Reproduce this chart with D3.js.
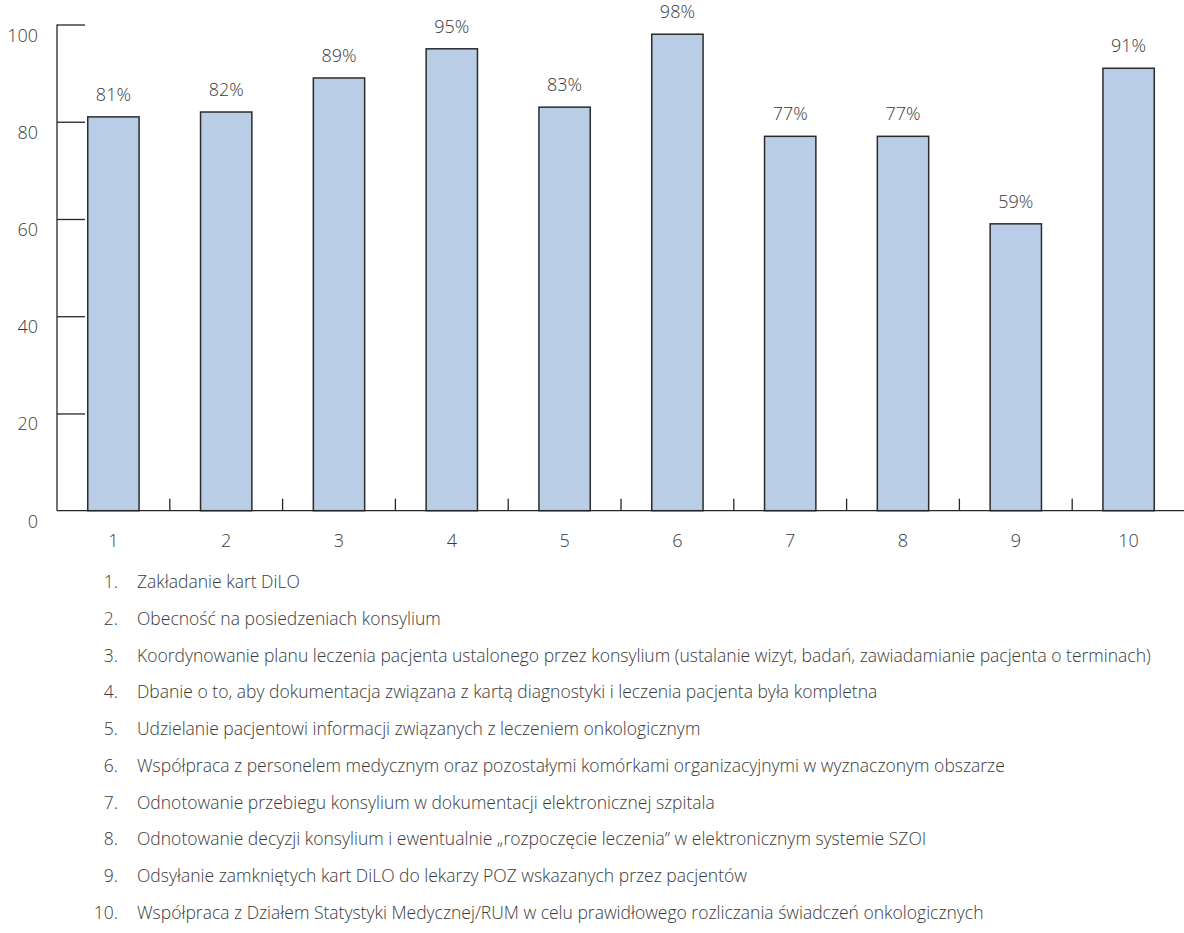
<!DOCTYPE html>
<html><head><meta charset="utf-8">
<script src="https://cdn.jsdelivr.net/npm/d3@7/dist/d3.min.js"></script>
<style>
html,body{margin:0;padding:0;background:#fff;}
svg{display:block;}
text{font-family:"Open Sans","Noto Sans",sans-serif;font-weight:300;}
</style></head>
<body>
<svg id="chart" width="1184" height="933"></svg>
<script>
const categories = ["1","2","3","4","5","6","7","8","9","10"];
const values = [81,82,89,95,83,98,77,77,59,91];
const yTicks = [0,20,40,60,80,100];
const legendItems = [
  "Zakładanie kart DiLO",
  "Obecność na posiedzeniach konsylium",
  "Koordynowanie planu leczenia pacjenta ustalonego przez konsylium (ustalanie wizyt, badań, zawiadamianie pacjenta o terminach)",
  "Dbanie o to, aby dokumentacja związana z kartą diagnostyki i leczenia pacjenta była kompletna",
  "Udzielanie pacjentowi informacji związanych z leczeniem onkologicznym",
  "Współpraca z personelem medycznym oraz pozostałymi komórkami organizacyjnymi w wyznaczonym obszarze",
  "Odnotowanie przebiegu konsylium w dokumentacji elektronicznej szpitala",
  "Odnotowanie decyzji konsylium i ewentualnie „rozpoczęcie leczenia” w elektronicznym systemie SZOI",
  "Odsyłanie zamkniętych kart DiLO do lekarzy POZ wskazanych przez pacjentów",
  "Współpraca z Działem Statystyki Medycznej/RUM w celu prawidłowego rozliczania świadczeń onkologicznych"
];

const svg = d3.select("#chart");
const x0 = 57, x1 = 1185, yTop = 24.5, yBot = 510.7;
const x = d3.scaleBand().domain(categories).range([x0, x1]).padding(0);
const y = d3.scaleLinear().domain([0,100]).range([yBot, yTop]);
const barW = x.bandwidth() * 0.455;
const axisColor = "#262626";
const textColor = "#3a3a3a";
const fam = '"Open Sans","Noto Sans",sans-serif';

// bars
svg.append("g").selectAll("rect").data(values).join("rect")
  .attr("x", (d,i) => x(categories[i]) + x.bandwidth()/2 - barW/2)
  .attr("y", d => y(d))
  .attr("width", barW)
  .attr("height", d => yBot - y(d))
  .attr("fill", "#b9cde6")
  .attr("stroke", "#2b2b2b")
  .attr("stroke-width", 1.5);

// value labels
svg.append("g").selectAll("text").data(values).join("text")
  .attr("x", (d,i) => x(categories[i]) + x.bandwidth()/2)
  .attr("y", d => y(d) - 16)
  .attr("text-anchor", "middle")
  .attr("font-size", 18)
  .attr("fill", textColor)
  .text(d => d + "%");

// y axis
const yAxis = d3.axisRight(y).tickValues(yTicks).tickSize(28).tickFormat("");
const gy = svg.append("g").attr("transform", `translate(${x0},0)`).call(yAxis);
gy.select(".domain").remove();
gy.selectAll(".tick line").attr("stroke", axisColor).attr("stroke-width", 1.3);
gy.selectAll(".tick").filter(d => d === 0).remove();
svg.append("line").attr("x1", x0).attr("x2", x0).attr("y1", yTop).attr("y2", yBot)
  .attr("stroke", axisColor).attr("stroke-width", 1.3);
svg.append("g").selectAll("text").data(yTicks).join("text")
  .attr("x", 38).attr("y", d => y(d) + 17)
  .attr("text-anchor", "end")
  .attr("font-size", 18)
  .attr("fill", textColor)
  .text(d => d);

// x axis
svg.append("line").attr("x1", x0).attr("x2", x1).attr("y1", yBot).attr("y2", yBot)
  .attr("stroke", axisColor).attr("stroke-width", 1.3);
svg.append("g").selectAll("line").data(categories.slice(1)).join("line")
  .attr("x1", d => x(d)).attr("x2", d => x(d))
  .attr("y1", yBot).attr("y2", yBot - 12)
  .attr("stroke", axisColor).attr("stroke-width", 1.3);
const xAxis = d3.axisBottom(x).tickSize(0).tickPadding(0);
const gx = svg.append("g").attr("transform", `translate(0,${yBot})`).call(xAxis);
gx.select(".domain").remove();
gx.selectAll(".tick text").attr("y", 36).attr("dy", 0)
  .attr("font-size", 18).attr("fill", textColor)
  .attr("font-family", fam).attr("font-weight", 300);

// legend
const lg = svg.append("g");
const ly = d3.scaleLinear().domain([0, legendItems.length-1]).range([588, 919]);
lg.selectAll("text.num").data(legendItems).join("text")
  .attr("class","num")
  .attr("x", 118).attr("y", (d,i) => ly(i))
  .attr("text-anchor", "end")
  .attr("font-size", 17.5).attr("fill", textColor)
  .text((d,i) => (i+1) + ".");
lg.selectAll("text.item").data(legendItems).join("text")
  .attr("class","item")
  .attr("x", 137).attr("y", (d,i) => ly(i))
  .attr("font-size", 17.5).attr("fill", textColor)
  .text(d => d);
</script>
</body></html>
